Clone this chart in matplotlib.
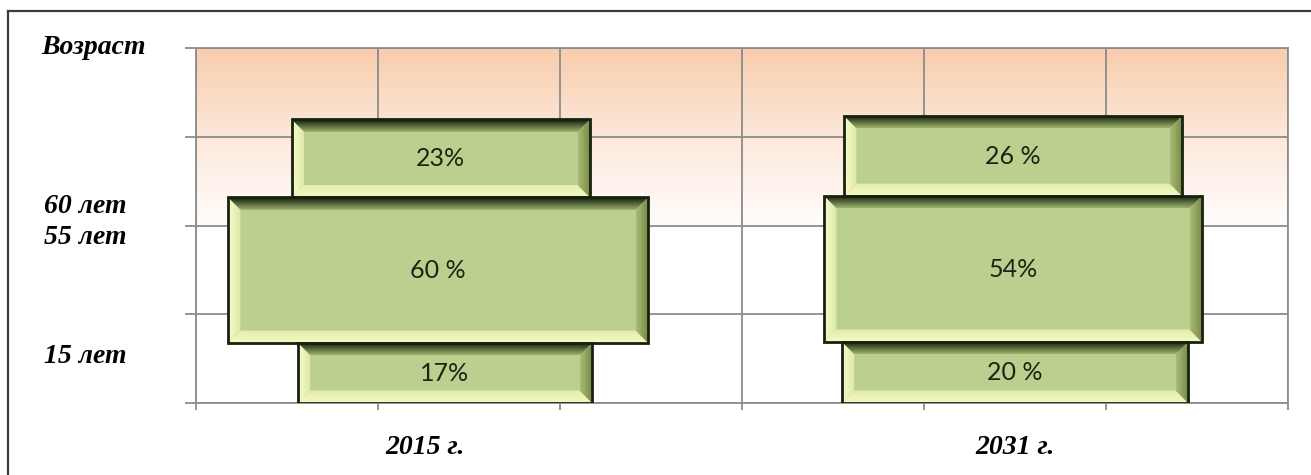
import numpy as np
import matplotlib.pyplot as plt
from matplotlib.patches import Polygon, Rectangle
from matplotlib.colors import LinearSegmentedColormap
from matplotlib.lines import Line2D

# categories / labels
years = ['2015 г.', '2031 г.']
year_x = [1.26, 4.5]
age_labels = ['Возраст', '60 лет', '55 лет', '15 лет']
age_y = [4.01, 2.21, 1.87, 0.52]

# shares of age groups, bottom -> top (0-15, 15-55/60, 55/60+)
shares_2015 = ['17%', '60 %', '23%']
shares_2031 = ['20 %', '54%', '26 %']

# bar boxes (grid units), bottom -> top
left_2015 = [0.56, 0.176, 0.525]
right_2015 = [2.176, 2.484, 2.165]
low_2015 = [0.0, 0.676, 2.316]
high_2015 = [0.676, 2.316, 3.195]

left_2031 = [3.549, 3.451, 3.560]
right_2031 = [5.451, 5.527, 5.418]
low_2031 = [0.0, 0.687, 2.332]
high_2031 = [0.687, 2.332, 3.234]

face = '#bbd08e'
gridc = '#8c8c8c'


def grad_poly(ax, verts, colors, direction, extent):
    poly = Polygon(verts, closed=True, facecolor='none', edgecolor='none')
    ax.add_patch(poly)
    cmap = LinearSegmentedColormap.from_list('g', colors)
    if direction == 'v':
        arr = np.linspace(0, 1, 64).reshape(-1, 1)
    else:
        arr = np.linspace(0, 1, 64).reshape(1, -1)
    im = ax.imshow(arr, cmap=cmap, extent=extent, origin='lower', aspect='auto',
                   zorder=3, interpolation='bilinear')
    im.set_clip_path(poly)


def bevel_bar(ax, x0, x1, y0, y1):
    bx, by = 0.068, 0.14
    ax.add_patch(Rectangle((x0, y0), x1 - x0, y1 - y0, facecolor=face, edgecolor='none', zorder=3))
    top = [(x0, y1), (x1, y1), (x1 - bx, y1 - by), (x0 + bx, y1 - by)]
    grad_poly(ax, top, ['#9cb06e', '#55673a', '#0d140b'], 'v', [x0, x1, y1 - by, y1])
    bottom = [(x0, y0), (x1, y0), (x1 - bx, y0 + by), (x0 + bx, y0 + by)]
    grad_poly(ax, bottom, ['#f4fac4', '#e3edab'], 'v', [x0, x1, y0, y0 + by])
    left = [(x0, y0), (x0 + bx, y0 + by), (x0 + bx, y1 - by), (x0, y1)]
    grad_poly(ax, left, ['#f7fccd', '#dde8a6'], 'h', [x0, x0 + bx, y0, y1])
    right = [(x1, y0), (x1 - bx, y0 + by), (x1 - bx, y1 - by), (x1, y1)]
    grad_poly(ax, right, ['#a9bb74', '#768746'], 'h', [x1 - bx, x1, y0, y1])
    ax.add_patch(Rectangle((x0, y0), x1 - x0, y1 - y0, fill=False,
                           edgecolor='#17210f', lw=2, zorder=5))


fig = plt.figure(figsize=(13.11, 4.75), dpi=100)
ax = fig.add_axes([196 / 1311, 72 / 475, 1092 / 1311, 355 / 475])

# peach gradient in the upper half
bg = LinearSegmentedColormap.from_list('bg', ['#ffffff', '#fde9dc', '#f8cdac'])
ax.imshow(np.linspace(0, 1, 100).reshape(-1, 1), cmap=bg, extent=[0, 6, 1.9, 4],
          origin='lower', aspect='auto', zorder=0, interpolation='bilinear')

ax.set_axisbelow(True)
ax.grid(color=gridc, lw=1.3)
for s in ax.spines.values():
    s.set_color(gridc)
    s.set_linewidth(1.3)
ax.set_xticks(range(7))
ax.set_yticks(range(5))
ax.set_xticklabels([])
ax.set_yticklabels([])
ax.tick_params(axis='x', length=5, width=1.3, color=gridc)
ax.tick_params(axis='y', length=8, width=1.3, color=gridc)

for lefts, rights, lows, highs, texts in [
        (left_2015, right_2015, low_2015, high_2015, shares_2015),
        (left_2031, right_2031, low_2031, high_2031, shares_2031)]:
    for x0, x1, y0, y1, t in zip(lefts, rights, lows, highs, texts):
        bevel_bar(ax, x0, x1, y0, y1)
        ax.text((x0 + x1) / 2, (y0 + y1) / 2, t, ha='center', va='center',
                fontsize=18, family='Lato', color='#1a2614', zorder=6)

ax.set_xlim(0, 6)
ax.set_ylim(0, 4)

for lab, yv in zip(age_labels, age_y):
    ax.text(-0.094 if lab == 'Возраст' else -0.101, yv, lab,
            transform=ax.get_yaxis_transform(), ha='center', va='center',
            fontsize=20, family='Liberation Serif', weight='bold', style='italic')

for lab, xv in zip(years, year_x):
    ax.text(xv, -0.124, lab, transform=ax.get_xaxis_transform(), ha='center', va='center',
            fontsize=20, family='Liberation Serif', weight='bold', style='italic')

# outer frame (left and top edges)
fig.add_artist(Line2D([8 / 1311, 8 / 1311], [0, 1 - 11 / 475], transform=fig.transFigure,
                      color='#3c3c3c', lw=1.6))
fig.add_artist(Line2D([8 / 1311, 1], [1 - 11 / 475, 1 - 11 / 475], transform=fig.transFigure,
                      color='#3c3c3c', lw=1.6))

fig.savefig('out.png', dpi=100)
